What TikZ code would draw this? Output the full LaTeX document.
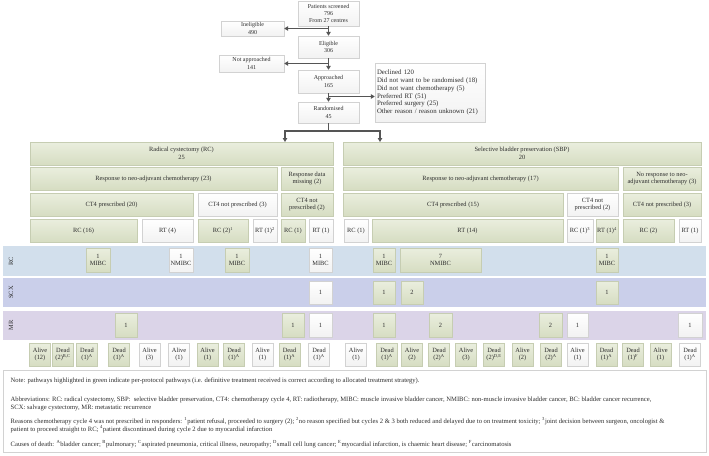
\documentclass[tikz,border=0pt]{standalone}
\usepackage{fontspec}
\setmainfont{Liberation Serif}
\usepackage{tikz}
\usetikzlibrary{arrows.meta,positioning}
\definecolor{grntop}{RGB}{234,238,222}
\definecolor{grnbot}{RGB}{214,221,194}
\definecolor{grnline}{RGB}{198,205,178}
\definecolor{wline}{RGB}{210,210,210}
\definecolor{wbot}{RGB}{242,242,242}
\definecolor{rcband}{RGB}{210,223,236}
\definecolor{scxband}{RGB}{202,207,234}
\definecolor{mrband}{RGB}{219,212,232}
\definecolor{arrgray}{RGB}{85,85,85}
\definecolor{txt}{RGB}{45,45,45}

\begin{document}
\begin{tikzpicture}[x=1pt,y=-1pt,
  every node/.style={font=\fontsize{6.4}{7.4}\selectfont,text=txt,align=center,inner sep=0.5pt},
  g/.style={draw=grnline,top color=grntop,bottom color=grnbot,minimum height=23pt},
  w/.style={draw=wline,top color=white,bottom color=wbot,minimum height=23pt},
  flow/.style={draw=wline,top color=white,bottom color=wbot,font=\fontsize{6}{7.2}\selectfont},
  band/.style={minimum width=703pt,inner sep=0pt},
  notetext/.style={anchor=west,align=left,font=\fontsize{6.6}{8}\selectfont},
  arr/.style={draw=arrgray,line width=1.2pt,-{Triangle[length=4pt,width=4.5pt]}},
  lbl/.style={rotate=90}]
\useasboundingbox (0,0) rectangle (709,455);

\node[flow,minimum width=61pt,minimum height=25pt] (screened) at (328.5,13.5) {Patients screened\\796\\From 27 centres};
\node[flow,minimum width=63pt,minimum height=15pt] (inelig) at (252.5,28.5) {Ineligible\\490};
\node[flow,minimum width=61pt,minimum height=22pt] (eligible) at (328.5,47) {Eligible\\306};
\node[flow,minimum width=65pt,minimum height=17pt] (notappr) at (251.5,63.5) {Not approached\\141};
\node[flow,minimum width=61pt,minimum height=23pt] (approached) at (328.5,81.5) {Approached\\165};
\node[flow,minimum width=61pt,minimum height=21pt] (randomised) at (328.5,112.5) {Randomised\\45};
\node[flow,minimum width=110pt,minimum height=59pt,text width=106pt,align=left,font=\fontsize{6.8}{7.9}\selectfont] (declined) at (430,92.5)
  {Declined 120\\Did not want to be randomised (18)\\Did not want chemotherapy (5)\\Preferred RT (51)\\Preferred surgery (25)\\Other reason / reason unknown (21)};

\draw[arr] (screened) -- (eligible);
\draw[arr] (eligible) -- (approached);
\draw[arr] (approached) -- (randomised);
\draw[arr] (inelig.east -| screened.south) -- (inelig.east);
\draw[arr] (notappr.east -| eligible.south) -- (notappr.east);
\coordinate (dj) at (328.5,96.5);
\draw[arr] (dj) -- (dj -| declined.west);

% treatment arms
\node[g,minimum width=303pt] (rcarm) at (181.5,153.5) {Radical cystectomy (RC)\\25};
\node[g,minimum width=358pt] (sbparm) at (522,153.5) {Selective bladder preservation (SBP)\\20};

\coordinate (split) at (328.5,131);
\coordinate (rcin) at (285,142);
\coordinate (sbpin) at (380,142);
\draw[draw=arrgray,line width=1.2pt] (randomised.south) -- (split);
\draw[arr] (split) -| (rcin);
\draw[arr] (split) -| (sbpin);

\node[g,minimum width=247pt] (rcresp) at (153.5,178.5) {Response to neo-adjuvant chemotherapy (23)};
\node[g,minimum width=52pt] (rcmiss) at (307,178.5) {Response data\\missing (2)};
\node[g,minimum width=275pt] (sbpresp) at (480.5,178.5) {Response to neo-adjuvant chemotherapy (17)};
\node[g,minimum width=78pt] (sbpnoresp) at (662,178.5) {No response to neo-\\adjuvant chemotherapy (3)};

\node[g,minimum width=163pt] (rcct) at (111.5,204.5) {CT4 prescribed (20)};
\node[w,minimum width=79pt] (rcnoct) at (237.5,204.5) {CT4 not prescribed (3)};
\node[g,minimum width=52pt] (missnoct) at (307,204.5) {CT4 not\\prescribed (2)};
\node[g,minimum width=220pt] (sbpct) at (453,204.5) {CT4 prescribed (15)};
\node[w,minimum width=51pt] (sbpnoct) at (592.5,204.5) {CT4 not\\prescribed (2)};
\node[g,minimum width=78pt] (nrnoct) at (662,204.5) {CT4 not prescribed (3)};

\node[g,minimum width=107pt] (t1) at (83.5,230.5) {RC (16)};
\node[w,minimum width=51pt] (t2) at (167.5,230.5) {RT (4)};
\node[g,minimum width=50pt] (t3) at (223,230.5) {RC (2)\textsuperscript{1}};
\node[w,minimum width=24pt] (t4) at (265,230.5) {RT (1)\textsuperscript{2}};
\node[g,minimum width=24pt] (t5) at (293,230.5) {RC (1)};
\node[w,minimum width=24pt] (t6) at (321,230.5) {RT (1)};
\node[w,minimum width=24pt] (t7) at (356,230.5) {RC (1)};
\node[g,minimum width=191pt] (t8) at (467.5,230.5) {RT (14)};
\node[w,minimum width=26pt] (t9) at (580,230.5) {RC (1)\textsuperscript{3}};
\node[g,minimum width=22pt] (t10) at (607,230.5) {RT (1)\textsuperscript{4}};
\node[g,minimum width=51pt] (t11) at (648.5,230.5) {RC (2)};
\node[w,minimum width=22pt] (t12) at (690,230.5) {RT (1)};

% outcome bands
\node[band,fill=rcband,minimum height=30pt] (rcrow) at (354.5,261) {};
\node[band,fill=scxband,minimum height=29pt] (scxrow) at (354.5,292.5) {};
\node[band,fill=mrband,minimum height=29pt] (mrrow) at (354.5,325.5) {};
\node[lbl] at (11,261) {RC};
\node[lbl] at (11,292.5) {SCX};
\node[lbl] at (11,325.5) {MR};

\node[g,minimum width=24pt,minimum height=24pt] (rc1) at (98,260) {1\\MIBC};
\node[w,minimum width=24pt,minimum height=24pt] (rc2) at (181,260) {1\\NMIBC};
\node[g,minimum width=24pt,minimum height=24pt] (rc3) at (237,260) {1\\MIBC};
\node[w,minimum width=23pt,minimum height=24pt] (rc4) at (320.5,260) {1\\MIBC};
\node[g,minimum width=22pt,minimum height=24pt] (rc5) at (384,260) {1\\MIBC};
\node[g,minimum width=81pt,minimum height=24pt] (rc6) at (440.5,260) {7\\NMIBC};
\node[g,minimum width=22pt,minimum height=24pt] (rc7) at (607,260) {1\\MIBC};

\node[w,minimum width=23pt] (scx1) at (320.5,292.5) {1};
\node[g,minimum width=22pt] (scx2) at (384,292.5) {1};
\node[g,minimum width=22pt] (scx3) at (412,292.5) {2};
\node[g,minimum width=22pt] (scx4) at (607,292.5) {1};

\node[g,minimum width=22pt,minimum height=24pt] (mr1) at (126,325) {1};
\node[g,minimum width=22pt,minimum height=24pt] (mr2) at (293,325) {1};
\node[w,minimum width=23pt,minimum height=24pt] (mr3) at (320.5,325) {1};
\node[g,minimum width=22pt,minimum height=24pt] (mr4) at (384,325) {1};
\node[g,minimum width=23pt,minimum height=24pt] (mr5) at (440.5,325) {2};
\node[g,minimum width=23pt,minimum height=24pt] (mr6) at (550.5,325) {2};
\node[w,minimum width=21pt,minimum height=24pt] (mr7) at (577.5,325) {1};
\node[w,minimum width=24pt,minimum height=24pt] (mr8) at (690,325) {1};

\foreach \cx/\t/\s [count=\i] in {
  40/{Alive\\(12)}/g, 63/{Dead\\(2)\textsuperscript{B,C}}/g, 87/{Dead\\(1)\textsuperscript{A}}/g,
  119/{Dead\\(1)\textsuperscript{A}}/g, 149.5/{Alive\\(3)}/w, 179/{Alive\\(1)}/w,
  207.5/{Alive\\(1)}/g, 234/{Dead\\(1)\textsuperscript{A}}/g, 262.5/{Alive\\(1)}/w,
  289.5/{Dead\\(1)\textsuperscript{A}}/g, 319/{Dead\\(1)\textsuperscript{A}}/w, 356/{Alive\\(1)}/w,
  387/{Dead\\(1)\textsuperscript{A}}/g, 412/{Alive\\(2)}/g, 439/{Dead\\(2)\textsuperscript{A}}/g,
  466/{Alive\\(3)}/g, 494/{Dead\\(2)\textsuperscript{D,E}}/g, 522.5/{Alive\\(2)}/g,
  551/{Dead\\(2)\textsuperscript{A}}/g, 577.5/{Alive\\(1)}/w, 606.5/{Dead\\(1)\textsuperscript{A}}/g,
  633/{Dead\\(1)\textsuperscript{F}}/g, 660.5/{Alive\\(1)}/g, 690/{Dead\\(1)\textsuperscript{A}}/w}
  \node[\s,minimum width=21pt] (out\i) at (\cx,354.5) {\t};

% notes
\node[draw=wline,fill=white,minimum width=703pt,minimum height=82pt,inner sep=0pt] (notes) at (354.5,411.5) {};
\node[notetext] (note) at (10,381) {Note: pathways highlighted in green indicate per-protocol pathways (i.e. definitive treatment received is correct according to allocated treatment strategy).};
\node[notetext] (abbr) at (10,404) {Abbreviations: RC: radical cystectomy, SBP:\ \ selective bladder preservation, CT4: chemotherapy cycle 4, RT: radiotherapy, MIBC: muscle invasive bladder cancer, NMIBC: non-muscle invasive bladder cancer, BC: bladder cancer recurrence,\\SCX: salvage cystectomy, MR: metastatic recurrence};
\node[notetext] (reasons) at (10,425.5) {Reasons chemotherapy cycle 4 was not prescribed in responders: \textsuperscript{1}patient refusal, proceeded to surgery (2); \textsuperscript{2}no reason specified but cycles 2 \& 3 both reduced and delayed due to on treatment toxicity; \textsuperscript{3}joint decision between surgeon, oncologist \&\\patient to proceed straight to RC; \textsuperscript{4}patient discontinued during cycle 2 due to myocardial infarction};
\node[notetext] (causes) at (10,444) {Causes of death: \textsuperscript{A}bladder cancer; \textsuperscript{B}pulmonary; \textsuperscript{C}aspirated pneumonia, critical illness, neuropathy; \textsuperscript{D}small cell lung cancer; \textsuperscript{E}myocardial infarction, is chaemic heart disease; \textsuperscript{F}carcinomatosis};
\end{tikzpicture}
\end{document}
